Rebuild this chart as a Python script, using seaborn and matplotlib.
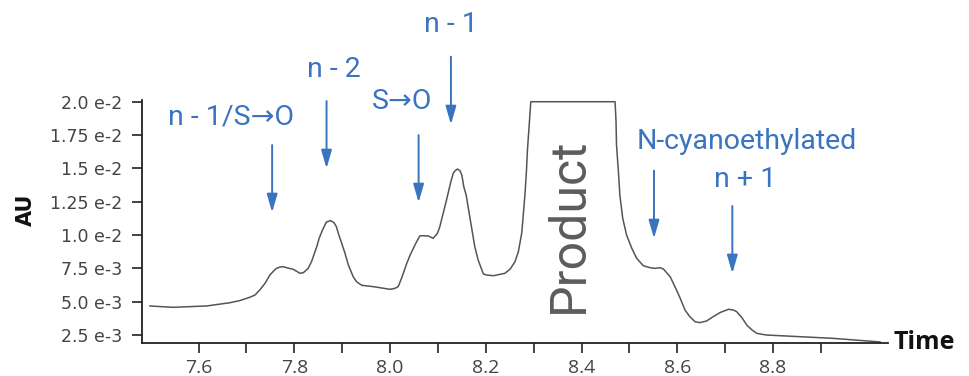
import numpy as np
import pandas as pd
import matplotlib
matplotlib.use("Agg")
import matplotlib.pyplot as plt
import seaborn as sns

# chromatogram trace (time, absorbance)
time = [7.498, 7.547, 7.617, 7.665, 7.686, 7.707, 7.718, 7.728, 7.739, 7.749,
        7.759, 7.763, 7.770, 7.777, 7.784, 7.798, 7.812, 7.819, 7.829, 7.836,
        7.847, 7.852, 7.859, 7.864, 7.867, 7.876, 7.883, 7.888, 7.892, 7.899,
        7.906, 7.913, 7.923, 7.930, 7.941, 7.965, 8.000, 8.010, 8.017, 8.024,
        8.035, 8.042, 8.052, 8.062, 8.069, 8.080, 8.090, 8.099, 8.104, 8.111,
        8.118, 8.127, 8.132, 8.136, 8.141, 8.146, 8.150, 8.154, 8.159, 8.163,
        8.170, 8.177, 8.184, 8.195, 8.202, 8.216, 8.240, 8.251, 8.261, 8.268,
        8.275, 8.278, 8.282, 8.285, 8.287, 8.294, 8.470, 8.472, 8.473, 8.477,
        8.480, 8.486, 8.494, 8.505, 8.515, 8.529, 8.543, 8.553, 8.564, 8.571,
        8.585, 8.595, 8.606, 8.616, 8.626, 8.637, 8.647, 8.661, 8.675, 8.690,
        8.707, 8.717, 8.724, 8.735, 8.745, 8.756, 8.766, 8.776, 8.787, 8.926,
        9.024]
au = [0.00468, 0.00458, 0.00468, 0.00492, 0.00508, 0.00533, 0.00550, 0.00588, 0.00638, 0.00700,
      0.00738, 0.00750, 0.00760, 0.00763, 0.00755, 0.00743, 0.00713, 0.00718, 0.00750, 0.00800,
      0.00913, 0.00976, 0.01038, 0.01075, 0.01098, 0.01108, 0.01093, 0.01063, 0.01013, 0.00938,
      0.00863, 0.00775, 0.00688, 0.00650, 0.00623, 0.00613, 0.00593, 0.00600, 0.00613, 0.00675,
      0.00788, 0.00850, 0.00925, 0.00993, 0.00995, 0.00993, 0.00976, 0.01013, 0.01063, 0.01163,
      0.01263, 0.01400, 0.01463, 0.01483, 0.01495, 0.01483, 0.01450, 0.01363, 0.01300, 0.01213,
      0.01063, 0.00913, 0.00813, 0.00708, 0.00700, 0.00695, 0.00713, 0.00745, 0.00800, 0.00875,
      0.01013, 0.01138, 0.01313, 0.01488, 0.01638, 0.02000, 0.02000, 0.01850, 0.01675, 0.01475,
      0.01300, 0.01125, 0.01000, 0.00900, 0.00826, 0.00770, 0.00755, 0.00750, 0.00755, 0.00745,
      0.00688, 0.00613, 0.00526, 0.00438, 0.00388, 0.00350, 0.00343, 0.00355, 0.00388, 0.00420,
      0.00443, 0.00438, 0.00425, 0.00380, 0.00325, 0.00288, 0.00263, 0.00256, 0.00250, 0.00225,
      0.00198]

y_ticks = [0.0025, 0.005, 0.0075, 0.010, 0.0125, 0.015, 0.0175, 0.020]
y_labels = ["2.5 e-3", "5.0 e-3", "7.5 e-3", "1.0 e-2", "1.25 e-2", "1.5 e-2", "1.75 e-2", "2.0 e-2"]
x_major = [7.6, 7.8, 8.0, 8.2, 8.4, 8.6, 8.8]
x_minor = [7.7, 7.9, 8.1, 8.3, 8.5, 8.7, 8.9]

# peak labels: (text, x, y)
labels = [("n - 1/S\u2192O", 7.6675, 0.01885),
          ("n - 2", 7.8827, 0.02245),
          ("S\u2192O", 8.0247, 0.01998),
          ("n - 1", 8.127, 0.02583),
          ("N-cyanoethylated", 8.745, 0.01698),
          ("n + 1", 8.7415, 0.01413)]
# arrows: (x, start y, tip y)
arrows = [(7.7538, 0.01675, 0.01170),
          (7.8674, 0.02005, 0.01500),
          (8.0597, 0.01750, 0.01245),
          (8.1272, 0.02338, 0.01830),
          (8.5513, 0.01483, 0.00975),
          (8.7149, 0.01218, 0.00713)]

df = pd.DataFrame({"time": time, "au": au})

sns.set_style("ticks")
plt.rcParams["font.family"] = ["DejaVu Sans"]

BLUE = "#3a73c0"

fig = plt.figure(figsize=(9.7, 3.76), dpi=100)
ax = fig.add_axes([142 / 970, 1 - 342.5 / 376, 746 / 970, 242.5 / 376])

sns.lineplot(data=df, x="time", y="au", ax=ax, estimator=None, sort=False,
             color="#555555", linewidth=1.1)
ax.lines[0].set_solid_joinstyle("round")

ax.set_xlim(7.482, 9.04)
ax.set_ylim(0.00194, 0.02013)
ax.set_xlabel("")
ax.set_ylabel("")

sns.despine(ax=ax)
for s in ["left", "bottom"]:
    ax.spines[s].set_color("#222222")
    ax.spines[s].set_linewidth(1.3)

ax.set_yticks(y_ticks)
ax.set_yticklabels(y_labels, fontsize=12.5, color="#444444", family="DejaVu Sans")
ax.set_xticks(x_major)
ax.set_xticks(x_minor, minor=True)
ax.set_xticklabels([f"{v:.1f}" for v in x_major], fontsize=14, color="#444444",
                   family="Open Sans")
ax.tick_params(axis="y", direction="out", length=7, width=1.2, color="#222222", pad=7)
ax.tick_params(axis="x", which="both", direction="out", length=7, width=1.2,
               color="#222222", pad=5)

for txt, x, y in labels:
    ax.text(x, y, txt, ha="center", va="center", fontsize=20.5, color=BLUE,
            family=["Roboto", "DejaVu Sans"], clip_on=False)

for x, y0, y1 in arrows:
    ax.annotate("", xy=(x, y1), xytext=(x, y0), annotation_clip=False,
                arrowprops=dict(arrowstyle="-|>,head_length=0.55,head_width=0.16",
                                color=BLUE, lw=1.4, mutation_scale=20,
                                shrinkA=0, shrinkB=0))

ax.text(8.3737, 0.01075, "Product", rotation=90, ha="center", va="center",
        fontsize=36, color="#5c5c5c", family="Roboto")

ax.text(1.007, 0.0, "Time", transform=ax.transAxes, ha="left", va="center",
        fontsize=18, fontweight="bold", family="Open Sans", color="#111111")
fig.text(26 / 970, 1 - 210 / 376, "AU", rotation=90, ha="center", va="center",
         fontsize=15, fontweight="bold", color="#111111")

fig.savefig("out.png", dpi=100)
